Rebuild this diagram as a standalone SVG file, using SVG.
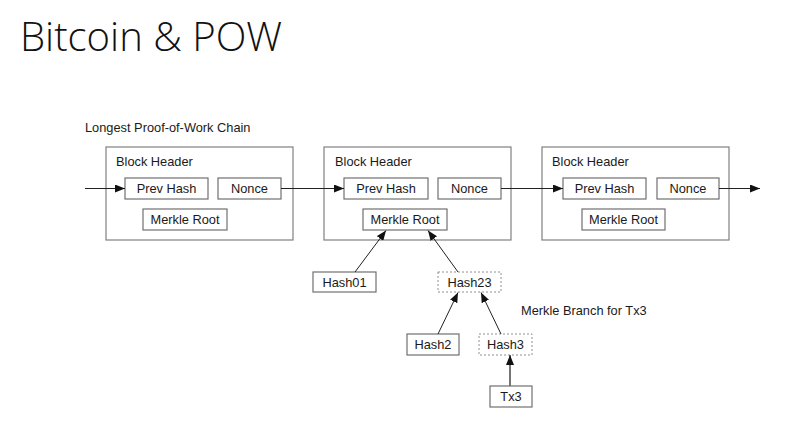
<svg xmlns="http://www.w3.org/2000/svg" width="800" height="427" viewBox="0 0 800 427">
<defs>
<marker id="ah" viewBox="0 0 10 8" refX="10" refY="4" markerWidth="10" markerHeight="8" markerUnits="userSpaceOnUse" orient="auto">
<path d="M0,0 L10,4 L0,8 Z" fill="#111"/>
</marker>
</defs>
<style>
.blk{fill:#fff;stroke:#808080;stroke-width:1.2}
.box{fill:#fff;stroke:#707070;stroke-width:1.2}
.dash{fill:#fff;stroke:#909090;stroke-width:1;stroke-dasharray:2,2}
.t{font-family:"Liberation Sans",Arial,sans-serif;font-size:12.8px;fill:#1a1a1a}
.c{text-anchor:middle}
.ln{stroke:#222;stroke-width:1;fill:none;marker-end:url(#ah)}
.title{font-family:"Open Sans","Liberation Sans",sans-serif;font-weight:300;font-size:40px;fill:#111}
</style>
<rect width="800" height="427" fill="#fff"/>
<text class="title" x="20" y="51" textLength="262" lengthAdjust="spacingAndGlyphs">Bitcoin &amp; POW</text>
<text class="t" x="85" y="132">Longest Proof-of-Work Chain</text>

<g id="block1">
<rect class="blk" x="106" y="147" width="187" height="93"/>
<text class="t" x="116" y="166">Block Header</text>
<rect class="box" x="125" y="178" width="83" height="21"/>
<text class="t c" x="166.5" y="193">Prev Hash</text>
<rect class="box" x="218" y="178" width="63" height="21"/>
<text class="t c" x="249.5" y="193">Nonce</text>
<rect class="box" x="143" y="209" width="84" height="21"/>
<text class="t c" x="185" y="224">Merkle Root</text>
</g>

<g id="block2">
<rect class="blk" x="324" y="147" width="187" height="93"/>
<text class="t" x="335" y="166">Block Header</text>
<rect class="box" x="344" y="178" width="84" height="21"/>
<text class="t c" x="386" y="193">Prev Hash</text>
<rect class="box" x="438" y="178" width="63" height="21"/>
<text class="t c" x="469.5" y="193">Nonce</text>
<rect class="box" x="363" y="209" width="84" height="21"/>
<text class="t c" x="405" y="224">Merkle Root</text>
</g>

<g id="block3">
<rect class="blk" x="542" y="147" width="187" height="93"/>
<text class="t" x="552" y="166">Block Header</text>
<rect class="box" x="563" y="178" width="83" height="21"/>
<text class="t c" x="604.5" y="193">Prev Hash</text>
<rect class="box" x="657" y="178" width="62" height="21"/>
<text class="t c" x="688" y="193">Nonce</text>
<rect class="box" x="582" y="209" width="83" height="21"/>
<text class="t c" x="623.5" y="224">Merkle Root</text>
</g>

<g id="hash01">
<rect class="box" x="313" y="272" width="63" height="20"/>
<text class="t c" x="344.5" y="286.5">Hash01</text>
</g>
<g id="hash23">
<rect class="dash" x="438" y="272" width="63" height="20"/>
<text class="t c" x="469.5" y="286.5">Hash23</text>
</g>
<g id="hash2">
<rect class="box" x="407" y="334" width="52" height="21"/>
<text class="t c" x="433" y="349">Hash2</text>
</g>
<g id="hash3">
<rect class="dash" x="479" y="334" width="53" height="21"/>
<text class="t c" x="505.5" y="349">Hash3</text>
</g>
<g id="tx3">
<rect class="box" x="490" y="386" width="42" height="21"/>
<text class="t c" x="511" y="401">Tx3</text>
</g>
<text class="t" x="521" y="315">Merkle Branch for Tx3</text>

<g id="connectors">
<line class="ln" x1="85" y1="188.5" x2="125" y2="188.5"/>
<line class="ln" x1="281" y1="188.5" x2="344" y2="188.5"/>
<line class="ln" x1="501" y1="188.5" x2="563" y2="188.5"/>
<line class="ln" x1="719" y1="188.5" x2="760" y2="188.5"/>
<line class="ln" x1="355" y1="272" x2="386" y2="230.5"/>
<line class="ln" x1="458" y1="272" x2="428" y2="230.5"/>
<line class="ln" x1="438" y1="334" x2="458" y2="292.5"/>
<line class="ln" x1="501" y1="334" x2="481" y2="292.5"/>
<line class="ln" style="stroke:#666;stroke-width:1.8" x1="510" y1="386" x2="510" y2="355"/>
</g>
</svg>
